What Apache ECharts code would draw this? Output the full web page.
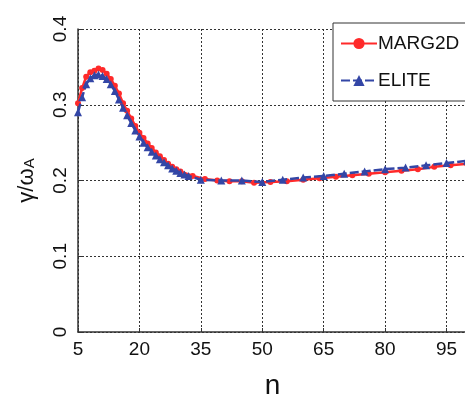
<!DOCTYPE html>
<html><head><meta charset="utf-8">
<script src="https://cdn.jsdelivr.net/npm/echarts@6/dist/echarts.min.js"></script>
<style>html,body{margin:0;padding:0;background:#fff}#c{width:465px;height:394px}</style>
</head><body><div id="c"></div>
<script>
var margN = [5,6,7,8,9,10,11,12,13,14,15,16,17,18,19,20,21,22,23,24,25,26,27,28,29,30,33,36,39,42,45,48,52,56,60,64,68,72,76,80,84,88,92,96,100];
var margVal = [0.302,0.322,0.337,0.343,0.345,0.348,0.346,0.341,0.334,0.325,0.315,0.302,0.292,0.282,0.272,0.263,0.256,0.249,0.243,0.237,0.232,0.227,0.222,0.218,0.215,0.212,0.206,0.202,0.200,0.199,0.199,0.197,0.198,0.199,0.201,0.203,0.205,0.207,0.209,0.211,0.213,0.215,0.218,0.220,0.222];
var eliteN = [5,6,7,8,9,10,11,12,13,14,15,16,17,18,19,20,21,22,23,24,25,26,27,28,29,30,31,32,35,40,45,50,55,60,65,70,75,80,85,90,95,100];
var eliteVal = [0.290,0.310,0.327,0.335,0.339,0.340,0.338,0.334,0.327,0.318,0.307,0.296,0.286,0.276,0.266,0.258,0.250,0.244,0.238,0.233,0.228,0.224,0.220,0.216,0.213,0.210,0.208,0.206,0.201,0.200,0.200,0.198,0.201,0.204,0.206,0.209,0.212,0.215,0.217,0.220,0.223,0.226];
var xTicks = [5,20,35,50,65,80,95];
var yTicks = [0,0.1,0.2,0.3,0.4];
function pairs(a,b){return a.map(function(v,i){return [v,b[i]];});}
var chart = echarts.init(document.getElementById('c'));
var font = 'Arial, "Liberation Sans", sans-serif';
chart.setOption({
  animation:false,
  textStyle:{fontFamily:font},
  grid:{left:78,top:29,right:-2,bottom:62,outerBoundsMode:'none',containLabel:false},
  legend:{
    orient:'vertical', left:333, top:23,
    padding:[11,40,11,7], itemGap:18, itemWidth:36, itemHeight:14,
    backgroundColor:'#fff', borderColor:'#333', borderWidth:1,
    textStyle:{fontSize:19, color:'#111', fontFamily:font, padding:[0,0,0,-4]},
    data:['MARG2D','ELITE']
  },
  xAxis:{
    type:'value', min:5, max:100, interval:15,
    name:'n', nameLocation:'middle', nameGap:40,
    nameTextStyle:{fontSize:28, color:'#111', fontFamily:font},
    axisLine:{show:true, lineStyle:{color:'#333', width:1.5}},
    axisTick:{show:true, inside:true, length:4, lineStyle:{color:'#333'}},
    axisLabel:{fontSize:19, color:'#111', margin:8, showMaxLabel:false,
      formatter:function(v){return xTicks.indexOf(v)>=0? String(v):'';}},
    splitLine:{show:true, lineStyle:{type:[2,2], color:'#333', width:1}}
  },
  yAxis:{
    type:'value', min:0, max:0.4, interval:0.1,
    name:'{a|γ/ω}{s|A}', nameLocation:'middle', nameGap:40, nameRotate:90,
    nameTextStyle:{rich:{a:{fontSize:22, color:'#111', fontFamily:font}, s:{fontSize:15, color:'#111', fontFamily:font, padding:[6,0,0,0]}}},
    axisLine:{show:true, lineStyle:{color:'#333', width:1.5}},
    axisTick:{show:true, inside:true, length:4, lineStyle:{color:'#333'}},
    axisLabel:{fontSize:19, color:'#111', margin:8, rotate:90,
      formatter:function(v){var r=Math.round(v*10)/10; return yTicks.indexOf(r)>=0? (r===0?'0':r.toFixed(1)):'';}},
    splitLine:{show:true, lineStyle:{type:[2,2], color:'#333', width:1}}
  },
  series:[
    {name:'MARG2D', type:'line', data:pairs(margN,margVal),
     symbol:'circle', symbolSize:6, showAllSymbol:true,
     lineStyle:{color:'#ff2a2a', width:2.5}, itemStyle:{color:'#ff2a2a'}, z:2},
    {name:'ELITE', type:'line', data:pairs(eliteN,eliteVal),
     symbol:'triangle', symbolSize:8, showAllSymbol:true,
     lineStyle:{color:'#3346a6', width:2.5, type:[9,3]}, itemStyle:{color:'#3346a6'}, z:3}
  ]
});
</script></body></html>
